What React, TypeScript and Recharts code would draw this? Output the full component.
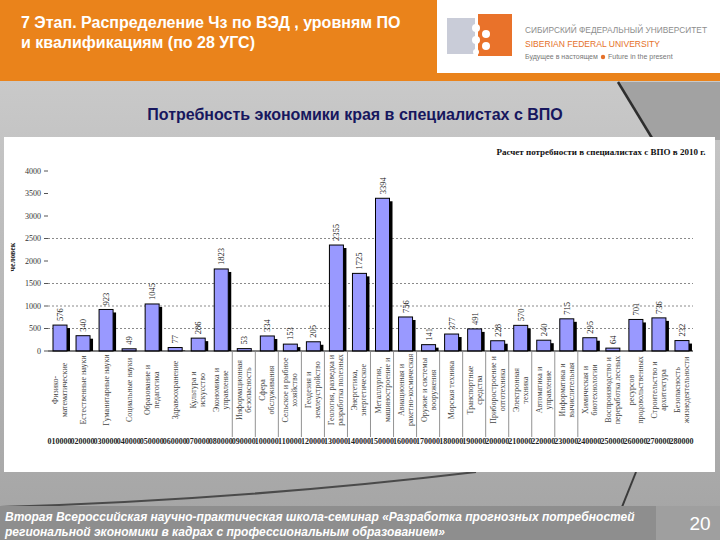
import React from 'react';
import { BarChart, Bar, XAxis, YAxis, CartesianGrid, LabelList } from 'recharts';

const codes = ['010000','020000','030000','040000','050000','060000','070000','080000','090000','100000','110000','120000','130000','140000','150000','160000','170000','180000','190000','200000','210000','220000','230000','240000','250000','260000','270000','280000'];

const categoryLines: string[][] = [
  ['Физико-', 'математические'],
  ['Естественные науки'],
  ['Гуманитарные науки'],
  ['Социальные науки'],
  ['Образование и', 'педагогика'],
  ['Здравоохранение'],
  ['Культура и', 'искусство'],
  ['Экономика и', 'управление'],
  ['Информационная', 'безопасность'],
  ['Сфера', 'обслуживания'],
  ['Сельское и рыбное', 'хозяйство'],
  ['Геодезия и', 'землеустройство'],
  ['Геология, разведка и', 'разработка полезных'],
  ['Энергетика,', 'энергетическое'],
  ['Металлургия,', 'машиностроение и'],
  ['Авиационная и', 'ракетно-космическая'],
  ['Оружие и системы', 'вооружения'],
  ['Морская техника'],
  ['Транспортные', 'средства'],
  ['Приборостроение и', 'оптотехника'],
  ['Электронная', 'техника'],
  ['Автоматика и', 'управление'],
  ['Информатика и', 'вычислительная'],
  ['Химическая и', 'биотехнологии'],
  ['Воспроизводство и', 'переработка лесных'],
  ['ресурсов', 'продовольственных'],
  ['Строительство и', 'архитектура'],
  ['Безопасность', 'жизнедеятельности'],
];

const demand = [576, 340, 923, 49, 1045, 77, 286, 1823, 53, 334, 153, 205, 2355, 1725, 3394, 756, 141, 377, 491, 228, 570, 240, 715, 295, 64, 701, 736, 232];

const yTicks = [0, 500, 1000, 1500, 2000, 2500, 3000, 3500, 4000];
const gridValues = [500, 1000, 1500, 2500];

const data = codes.map((code, i) => ({ code, idx: i, value: demand[i] }));

const SERIF = '"Liberation Serif", "DejaVu Serif", serif';
const SANS = '"Liberation Sans", Arial, sans-serif';

const ShadowBar = (props: any) => {
  const { x, y, width, height } = props;
  if (!height || height <= 0) return null;
  return (
    <g>
      <rect x={x + 3} y={y + 3} width={width} height={Math.max(height - 3, 0)} fill="#000" />
      <rect x={x} y={y} width={width} height={height} fill="#9999FF" stroke="#000" strokeWidth={1} />
    </g>
  );
};

const ValueLabel = (props: any) => {
  const { x, y, width, value } = props;
  const cx = Number(x) + Number(width) / 2 + 3;
  const ty = Number(y) - 4;
  return (
    <text transform="rotate(-90)" x={-ty} y={cx} textAnchor="start" fontFamily={SERIF} fontSize={8.5} fill="#222">
      {value}
    </text>
  );
};

const CategoryTick = (props: any) => {
  const { x, y, payload } = props;
  const i = payload.index;
  const lines = categoryLines[i] || [];
  const n = lines.length;
  const centerY = y + 39;
  const band = 23.04;
  return (
    <g>
      {i >= 8 && i <= 23 && (
        <line x1={x - band / 2} x2={x - band / 2} y1={y + 1} y2={y + 86} stroke="#777" strokeWidth={0.8} />
      )}
      {lines.map((ln, k) => {
        const dx = (k - (n - 1) / 2) * 9 + 3;
        return (
          <text key={k} transform="rotate(-90)" x={-centerY} y={x + dx} textAnchor="middle" fontFamily={SERIF} fontSize={8} fill="#444">
            {ln}
          </text>
        );
      })}
      <text x={x} y={y + 93} textAnchor="middle" fontFamily={SERIF} fontSize={8} fontWeight="bold" fill="#222">
        {codes[i]}
      </text>
    </g>
  );
};

export default function App() {
  return (
    <div style={{ position: 'absolute', left: 0, top: 0, width: 720, height: 540, overflow: 'hidden', background: '#C2C2C2' }}>
      <svg width={720} height={540} style={{ position: 'absolute', left: 0, top: 0 }}>
        <defs>
          <linearGradient id="bg" x1="0" y1="0" x2="0" y2="1">
            <stop offset="0" stopColor="#C9C9C9" />
            <stop offset="1" stopColor="#A6A6A6" />
          </linearGradient>
        </defs>
        <rect x={0} y={80} width={720} height={430} fill="url(#bg)" />
        <polygon points="618,82 720,82 720,140 652,140" fill="#A2A2A2" />
        <line x1={618} y1={82} x2={652} y2={138} stroke="#2E2E2E" strokeWidth={2.5} />
        <path d="M 0 507 Q 240 500 476 472" stroke="#4A4A4A" strokeWidth={2} fill="none" />
        <line x1={636} y1={472} x2={620} y2={512} stroke="#3A3A3A" strokeWidth={2} />
        {/* header */}
        <rect x={0} y={0} width={720} height={81} fill="#EA831B" />
        <rect x={437} y={0} width={283} height={73} fill="#FFFFFF" />
        {/* logo */}
        <rect x={447} y={18} width={28} height={36} fill="#C9CCD8" />
        <rect x={478} y={14} width={34} height={42} fill="#E9722A" />
        <circle cx={476} cy={28} r={4} fill="#FFFFFF" />
        <circle cx={476} cy={40} r={4} fill="#FFFFFF" />
        <circle cx={486} cy={34} r={4} fill="#FFFFFF" />
        <circle cx={486} cy={46} r={4} fill="#FFFFFF" />
        <circle cx={476} cy={52} r={3} fill="#FFFFFF" />
        <text x={525} y={33} fontFamily={SANS} fontSize={8.5} fill="#8D8D8D" textLength={182} lengthAdjust="spacingAndGlyphs">СИБИРСКИЙ ФЕДЕРАЛЬНЫЙ УНИВЕРСИТЕТ</text>
        <text x={525} y={47} fontFamily={SANS} fontSize={9.5} fill="#E5712A" textLength={135} lengthAdjust="spacingAndGlyphs">SIBERIAN FEDERAL UNIVERSITY</text>
        <text x={525} y={59} fontFamily={SANS} fontSize={7} fill="#777">Будущее в настоящем</text>
        <circle cx={603} cy={57} r={2.2} fill="#E5712A" />
        <text x={608} y={59} fontFamily={SANS} fontSize={7} fill="#777">Future in the present</text>
        <text x={21} y={28} fontFamily={SANS} fontSize={16} fontWeight="bold" fill="#FFFFFF">7 Этап. Распределение Чз по ВЭД , уровням ПО</text>
        <text x={21} y={48} fontFamily={SANS} fontSize={16} fontWeight="bold" fill="#FFFFFF">и квалификациям (по 28 УГС)</text>
        {/* subtitle */}
        <text x={355} y={120} textAnchor="middle" fontFamily={SANS} fontSize={16} fontWeight="bold" fill="#17175E">Потребность экономики края в специалистах с ВПО</text>
        {/* chart background */}
        <rect x={4} y={137} width={711} height={335} fill="#FFFFFF" />
        {/* footer */}
        <rect x={0} y={506} width={656} height={34} fill="#8E8E8E" />
        <rect x={656} y={506} width={64} height={34} fill="#9F9F9F" />
        <text x={5} y={521} fontFamily={SANS} fontSize={12} fontWeight="bold" fontStyle="italic" fill="#FFFFFF">Вторая Всероссийская научно-практическая школа-семинар  «Разработка прогнозных потребностей</text>
        <text x={5} y={536} fontFamily={SANS} fontSize={12} fontWeight="bold" fontStyle="italic" fill="#FFFFFF">региональной экономики в кадрах с профессиональным образованием»</text>
        <text x={700} y={530} textAnchor="middle" fontFamily={SANS} fontSize={19} fill="#FFFFFF">20</text>
      </svg>
      <div style={{ position: 'absolute', left: 4, top: 137 }}>
        <BarChart width={711} height={335} data={data} margin={{ top: 34, right: 22, bottom: 0, left: 0 }} barCategoryGap={0}>
          <CartesianGrid vertical={false} horizontalValues={gridValues} stroke="#8A8A8A" strokeDasharray="2 2" />
          <XAxis dataKey="code" interval={0} height={121} tickSize={0} tickMargin={0} axisLine={{ stroke: '#000', strokeWidth: 1 }} tickLine={false} tick={<CategoryTick />} />
          <YAxis domain={[0, 4000]} ticks={yTicks} width={44} axisLine={false} tickLine={{ stroke: '#555' }} tickSize={4} tickMargin={3} interval={0}
            tick={{ fontFamily: SERIF, fontSize: 8, fill: '#333' }} />
          <Bar dataKey="value" barSize={14} isAnimationActive={false} shape={<ShadowBar />}>
            <LabelList dataKey="value" content={<ValueLabel />} />
          </Bar>
        </BarChart>
      </div>
      <svg width={720} height={540} style={{ position: 'absolute', left: 0, top: 0, pointerEvents: 'none' }}>
        <text transform="rotate(-90)" x={-257} y={15} textAnchor="middle" fontFamily={SERIF} fontSize={8} fontWeight="bold" fill="#222">человек</text>
        <text x={601} y={155} textAnchor="middle" fontFamily={SERIF} fontSize={9} fontWeight="bold" fill="#111">Расчет потребности в специалистах с ВПО в 2010 г.</text>
      </svg>
    </div>
  );
}
